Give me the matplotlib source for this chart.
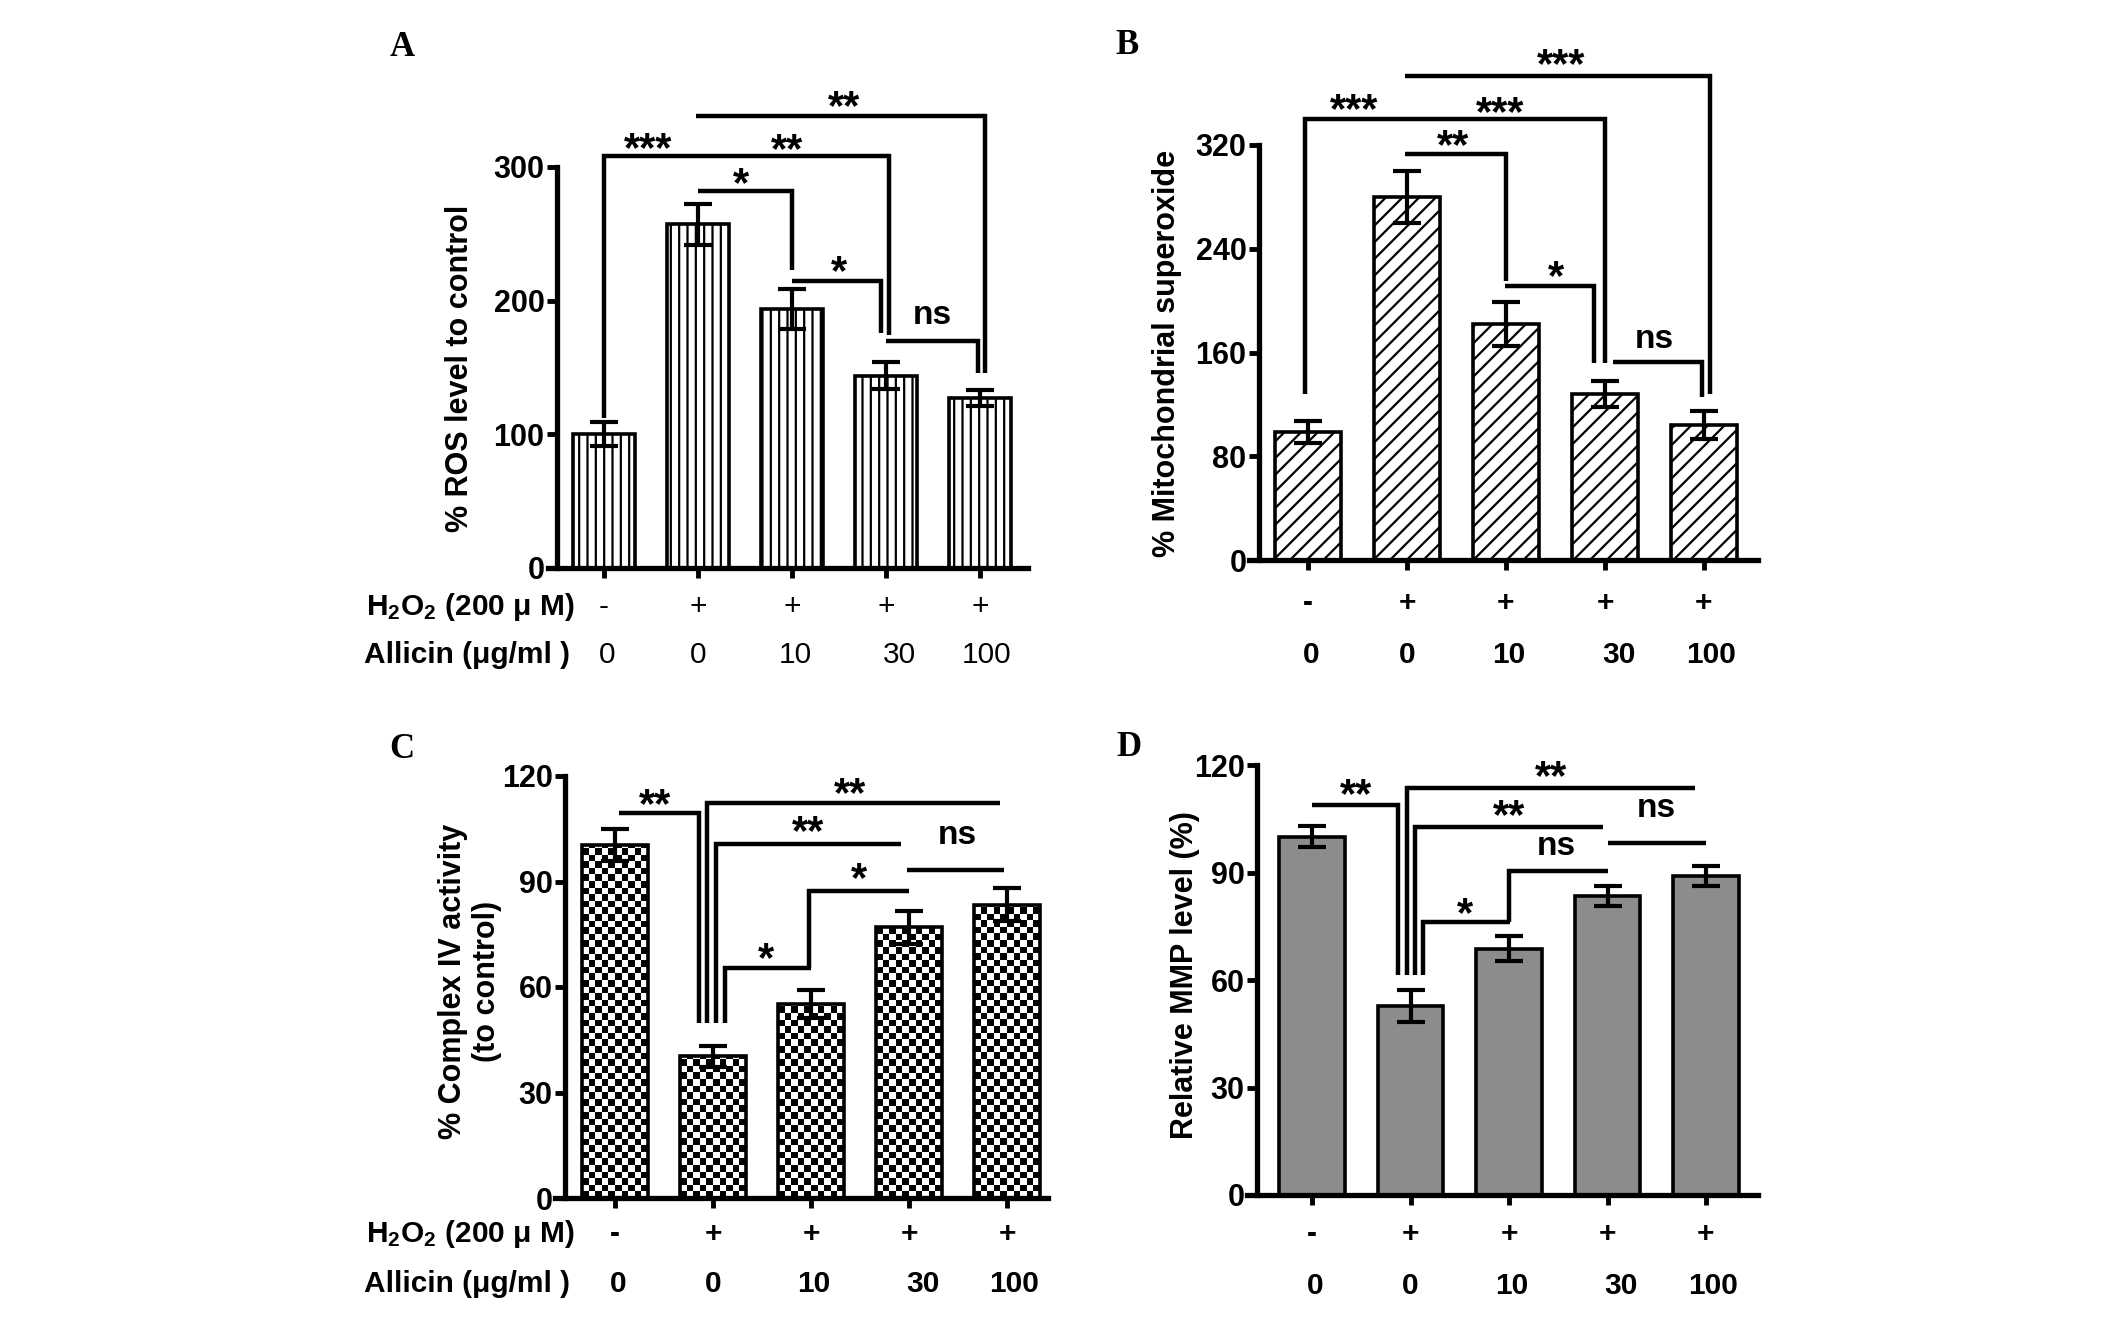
import numpy as np
import matplotlib
matplotlib.use('Agg')
import matplotlib.pyplot as plt
from matplotlib.transforms import blended_transform_factory

plt.rcParams['font.family'] = ['Liberation Sans', 'DejaVu Sans']
plt.rcParams['mathtext.fontset'] = 'custom'
plt.rcParams['mathtext.rm'] = 'Liberation Sans:bold'
plt.rcParams['mathtext.bf'] = 'Liberation Sans:bold'
plt.rcParams['mathtext.it'] = 'Liberation Sans:bold'
plt.rcParams['hatch.linewidth'] = 1.6

# ---------------- data ----------------
h2o2_labels = ['-', '+', '+', '+', '+']
allicin_labels = ['0', '0', '10', '30', '100']

ros_mean = [100, 257, 194, 144, 127]
ros_err = [9, 15, 15, 10, 6]
ros_ticks = [0, 100, 200, 300]

sup_mean = [99, 280, 182, 128, 104]
sup_err = [8.5, 20, 17, 10, 11]
sup_ticks = [0, 80, 160, 240, 320]

cox_mean = [100.3, 40.3, 55.1, 77.0, 83.4]
cox_err = [4.6, 3.0, 4.0, 4.7, 4.7]
cox_ticks = [0, 30, 60, 90, 120]

mmp_mean = [100, 52.7, 68.7, 83.4, 89]
mmp_err = [3.0, 4.5, 3.5, 2.7, 2.7]
mmp_ticks = [0, 30, 60, 90, 120]

# significance brackets (x in group index, y in data units) and labels
ros_brackets = [[(0, 112), (0, 308), (3.03, 308), (3.03, 174)],
                [(0.98, 338), (4.05, 338), (4.05, 146)],
                [(1.0, 282), (2.0, 282), (2.0, 223)],
                [(2.0, 215), (2.95, 215), (2.95, 176)],
                [(3.0, 170), (3.98, 170), (3.98, 146)]]
ros_sig = [('***', 0.47, 320), ('**', 1.95, 319), ('**', 2.55, 351),
           ('*', 1.46, 294), ('*', 2.50, 228), ('ns', 3.49, 187)]

sup_brackets = [[(0.98, 373), (4.06, 373), (4.06, 128)],
                [(-0.03, 128), (-0.03, 340), (3.0, 340), (3.0, 152)],
                [(0.98, 313), (2.0, 313), (2.0, 215)],
                [(1.99, 211), (2.89, 211), (2.89, 152)],
                [(3.08, 153), (3.98, 153), (3.98, 126)]]
sup_sig = [('***', 2.56, 388), ('***', 0.47, 354), ('***', 1.94, 351),
           ('**', 1.47, 326), ('*', 2.5, 225), ('ns', 3.5, 168)]

cox_brackets = [[(0.04, 109.4), (0.86, 109.4), (0.86, 49.7)],
                [(0.94, 49.7), (0.94, 112.4), (3.93, 112.4)],
                [(1.03, 49.7), (1.03, 100.8), (2.92, 100.8)],
                [(1.12, 49.7), (1.12, 65.3), (2.0, 65.3)],
                [(1.98, 65.3), (1.98, 87.4), (3.0, 87.4)],
                [(2.98, 93.2), (3.97, 93.2)]]
cox_sig = [('**', 0.41, 114.2), ('**', 2.4, 117.2), ('**', 1.97, 106.4),
           ('*', 1.54, 70.3), ('*', 2.49, 93.2), ('ns', 3.49, 102.2)]

mmp_brackets = [[(0.0, 108.7), (0.87, 108.7), (0.87, 61.5)],
                [(0.96, 61.5), (0.96, 113.6), (3.89, 113.6)],
                [(1.05, 61.5), (1.05, 102.6), (2.95, 102.6)],
                [(1.13, 61.5), (1.13, 76.2), (2.01, 76.2)],
                [(2.0, 76.2), (2.0, 90.4), (3.0, 90.4)],
                [(3.0, 98.3), (4.0, 98.3)]]
mmp_sig = [('**', 0.45, 114), ('**', 2.43, 119.2), ('**', 2.0, 108.2),
           ('*', 1.55, 80.9), ('ns', 2.48, 96.6), ('ns', 3.5, 107)]

# ---------------- figure ----------------
W, H = 2126, 1330
fig = plt.figure(figsize=(W / 100, H / 100), dpi=100)
BW = 0.67
label_dx = [0.03, 0.0, 0.03, 0.14, 0.07]
ROW_FS = 21.5


def make_axes(x0, dx, yaxis_px, xright_px, ybot_px, ytop_px, ticks):
    left_d = (yaxis_px - x0) / dx
    xl = left_d - 0.1
    xr = (xright_px - x0) / dx
    axl = x0 + xl * dx
    axr = x0 + xr * dx
    ax = fig.add_axes([axl / W, 1 - ybot_px / H, (axr - axl) / W,
                       (ybot_px - ytop_px) / H])
    ax.spines['right'].set_visible(False)
    ax.spines['top'].set_visible(False)
    ax.spines['left'].set_position(('data', left_d))
    for s in ('left', 'bottom'):
        ax.spines[s].set_linewidth(3.8)
    ax.tick_params(axis='both', direction='out', length=7, width=3.5,
                   labelsize=22, pad=2)
    ax.set_xticks(range(5))
    ax.set_xticklabels([])
    ax.set_yticks(ticks)
    ax.set_yticklabels([str(t) for t in ticks], fontweight='bold')
    return ax, (xl, xr), (0, ticks[-1])


def finish(ax, xlim, ylim, mean, err, brackets, sig, row_y, bold_vals=True):
    ax.errorbar(range(5), mean, yerr=err, fmt='none', ecolor='black',
                elinewidth=3, capsize=10, capthick=3, zorder=4)
    for br in brackets:
        xs, ys = zip(*br)
        ax.plot(xs, ys, color='black', lw=3.2, clip_on=False,
                solid_capstyle='butt', solid_joinstyle='miter', zorder=5)
    for txt, x, y in sig:
        if txt == 'ns':
            ax.annotate(txt, (x, y), xytext=(0, 2), textcoords='offset points',
                        ha='center', va='center', fontsize=24,
                        fontweight='bold', annotation_clip=False)
        else:
            ax.annotate(txt, (x, y), xytext=(0, -7), textcoords='offset points',
                        ha='center', va='center', fontsize=30,
                        fontweight='bold', annotation_clip=False)
    ax.set_xlim(*xlim)
    ax.set_ylim(*ylim)
    trans = blended_transform_factory(ax.transData, fig.transFigure)
    for i in range(5):
        ax.text(i, 1 - row_y[0] / H, h2o2_labels[i], transform=trans,
                ha='center', va='center', fontsize=ROW_FS,
                fontweight='bold' if bold_vals else 'normal')
        ax.text(i + label_dx[i], 1 - row_y[1] / H, allicin_labels[i],
                transform=trans, ha='center', va='center', fontsize=ROW_FS,
                fontweight='bold' if bold_vals else 'normal')


# Panel A
axA, xlA, ylA = make_axes(604, 94, 557, 1028, 568, 167, ros_ticks)
axA.bar(range(5), ros_mean, width=BW, color='white', edgecolor='black',
        linewidth=2.6, hatch='||', zorder=2)
finish(axA, xlA, ylA, ros_mean, ros_err, ros_brackets, ros_sig,
       (607, 655), bold_vals=False)

# Panel B
axB, xlB, ylB = make_axes(1308, 99, 1259, 1758, 560, 145, sup_ticks)
axB.bar(range(5), sup_mean, width=BW, color='white', edgecolor='black',
        linewidth=2.6, hatch='//', zorder=2)
finish(axB, xlB, ylB, sup_mean, sup_err, sup_brackets, sup_sig, (603, 655))

# Panel C (checkerboard fill)
axC, xlC, ylC = make_axes(615, 98, 565, 1048, 1198, 776, cox_ticks)
barsC = axC.bar(range(5), cox_mean, width=BW, color='white',
                edgecolor='none', zorder=2)
px_per_y = (1198 - 776) / 120.0
cell_px = 6.6
for b in barsC:
    x_left = b.get_x()
    ny = int(b.get_height() * px_per_y / cell_px) + 2
    nx = 10
    board = np.add.outer(np.arange(ny), np.arange(nx)) % 2
    im = axC.imshow(board, cmap='gray', vmin=0, vmax=1, origin='lower',
                    extent=(x_left, x_left + BW, 0, ny * cell_px / px_per_y),
                    interpolation='nearest', aspect='auto', zorder=2.2)
    im.set_clip_path(b)
axC.bar(range(5), cox_mean, width=BW, fill=False, edgecolor='black',
        linewidth=2.6, zorder=3)
finish(axC, xlC, ylC, cox_mean, cox_err, cox_brackets, cox_sig, (1234, 1284))

# Panel D
axD, xlD, ylD = make_axes(1312, 98.5, 1257, 1758, 1195, 765, mmp_ticks)
axD.bar(range(5), mmp_mean, width=BW, color='#8c8c8c', edgecolor='black',
        linewidth=2.6, zorder=2)
finish(axD, xlD, ylD, mmp_mean, mmp_err, mmp_brackets, mmp_sig, (1234, 1286))

# row labels
for y1, y2 in ((607, 655), (1234, 1284)):
    fig.text(366 / W, 1 - y1 / H, r'H$_\mathbf{2}$O$_\mathbf{2}$ (200 μ M)',
             ha='left', va='center', fontsize=ROW_FS, fontweight='bold')
    fig.text(364 / W, 1 - y2 / H, 'Allicin (μg/ml )', ha='left', va='center',
             fontsize=ROW_FS, fontweight='bold')

# y labels
fig.text(460 / W, 1 - 368 / H, '% ROS level to control', rotation=90,
         ha='center', va='center', fontsize=22, fontweight='bold')
fig.text(1167 / W, 1 - 353 / H, '% Mitochondrial superoxide', rotation=90,
         ha='center', va='center', fontsize=22, fontweight='bold')
fig.text(470 / W, 1 - 981 / H, '% Complex IV activity\n(to control)',
         rotation=90, ha='center', va='center', fontsize=22,
         fontweight='bold', multialignment='center')
fig.text(1185 / W, 1 - 975 / H, 'Relative MMP level (%)', rotation=90,
         ha='center', va='center', fontsize=22, fontweight='bold')

# panel letters
for lab, x, y in (('A', 402, 48), ('B', 1127, 46), ('C', 402, 749),
                  ('D', 1129, 747)):
    fig.text(x / W, 1 - y / H, lab, ha='center', va='center', fontsize=25,
             fontweight='bold', family='Liberation Serif')

fig.savefig('out.png', dpi=100)
